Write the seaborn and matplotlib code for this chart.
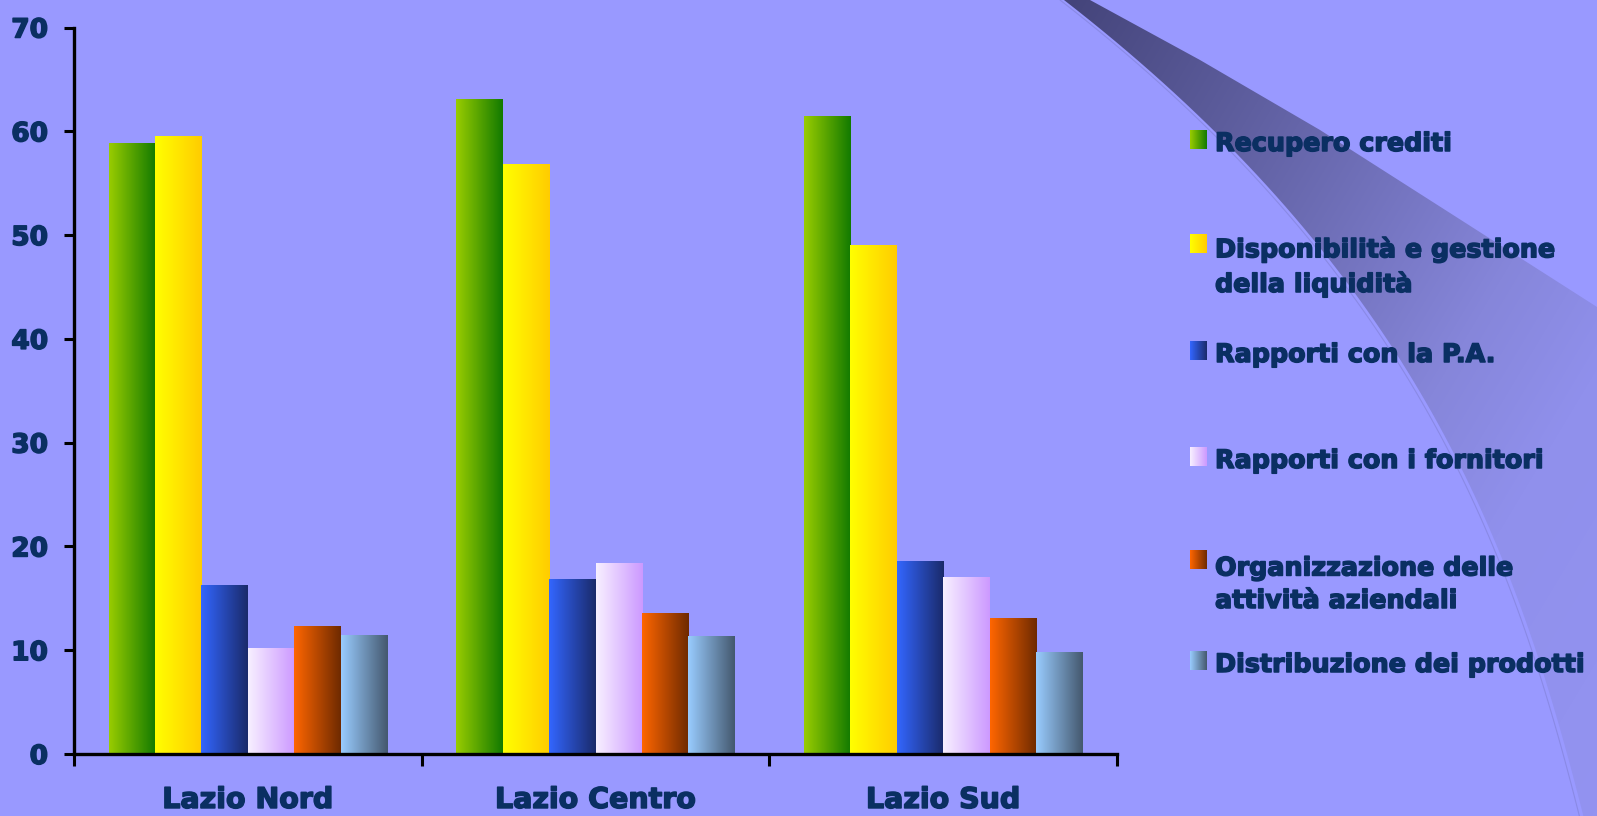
import numpy as np
import pandas as pd
import seaborn as sns
import matplotlib.pyplot as plt
import matplotlib.patheffects as pe
from matplotlib.colors import to_rgb
from matplotlib.patches import Polygon

# Dati
regioni = ["Lazio Nord", "Lazio Centro", "Lazio Sud"]
voci = ["Recupero crediti",
        "Disponibilità e gestione\ndella liquidità",
        "Rapporti con la P.A.",
        "Rapporti con i fornitori",
        "Organizzazione delle\nattività aziendali",
        "Distribuzione dei prodotti"]
recupero = [58.8, 63.1, 61.4]
disponibilita = [59.5, 56.8, 49.0]
rapporti_pa = [16.2, 16.8, 18.5]
fornitori = [10.2, 18.4, 17.0]
organizzazione = [12.3, 13.5, 13.1]
distribuzione = [11.4, 11.3, 9.8]
valori = [recupero, disponibilita, rapporti_pa, fornitori, organizzazione, distribuzione]

# colori sfumati (sinistra -> destra)
colori = [("#99cc00", "#127a00"),
          ("#ffff00", "#ffcc00"),
          ("#3366ff", "#1a2a6a"),
          ("#f8f0ff", "#cc99ff"),
          ("#ff6600", "#6e2a00"),
          ("#99ccff", "#44586e")]

blu = "#0a2f62"
sfondo = "#9999ff"
grassetto = [pe.withStroke(linewidth=1.1, foreground=blu)]

df = pd.DataFrame([(r, v, vals[i]) for v, vals in zip(voci, valori) for i, r in enumerate(regioni)],
                  columns=["regione", "voce", "valore"])

sns.set_style("ticks")
plt.rcParams["font.family"] = ["DejaVu Sans"]

W, H = 1597, 816
fig = plt.figure(figsize=(W / 100, H / 100), dpi=100, facecolor=sfondo)

# forma decorativa in alto a destra
bg = fig.add_axes([0, 0, 1, 1], zorder=-1)
bg.set_facecolor("none")
yy, xx = np.mgrid[0:H, 1040:W]
t = (xx - 1068) + 0.6 * yy
st_t = [0, 250, 600, 750, 1100]
st_c = [(68, 68, 122), (95, 95, 160), (134, 134, 218), (144, 144, 236), (148, 148, 242)]
img = np.dstack([np.interp(t, st_t, [c[k] for c in st_c]) for k in range(3)]) / 255
im = bg.imshow(img, extent=[1040, W, H, 0], origin="upper", interpolation="bilinear")
# bordo sinistro curvo (x in funzione di y), bordo superiore quasi dritto
py = [0, 90, 180, 222, 340, 405, 500, 600, 700, 816]
px = [1068, 1165, 1260, 1300, 1387, 1430, 1483, 1515, 1545, 1587]
k = np.polyfit(py, px, 3)
ys = np.linspace(0, H, 80)
bordo_sx = list(zip(np.polyval(k, ys), ys))
bordo_sup = [(1597, 816), (1597, 307), (1450, 213), (1320, 130), (1200, 60), (1090, 0)]
poly = Polygon(bordo_sx + bordo_sup, closed=True, facecolor="none", edgecolor="none", transform=bg.transData)
bg.add_patch(poly)
im.set_clip_path(poly)
bg.plot(np.polyval(k, ys) - 4, ys, color="#8a8ae6", lw=0.8)
bg.set_xlim(0, W)
bg.set_ylim(H, 0)
bg.set_aspect("auto")
bg.axis("off")

# grafico
ax = fig.add_axes([74 / W, 1 - 754 / H, (1117 - 74) / W, (754 - 27.5) / H])
ax.set_facecolor("none")
sns.barplot(data=df, x="regione", y="valore", hue="voce", order=regioni, hue_order=voci,
            width=0.8, saturation=1, legend=False, linewidth=0, ax=ax)


def sfumatura(c0, c1):
    g = np.linspace(0, 1, 256)[:, None]
    return (((1 - g) * np.array(to_rgb(c0)) + g * np.array(to_rgb(c1))))[None, :, :]


for cont, (c0, c1) in zip(ax.containers, colori):
    grad = sfumatura(c0, c1)
    for bar in cont:
        x0, w, h = bar.get_x(), bar.get_width(), bar.get_height()
        ax.imshow(grad, extent=[x0, x0 + w, 0, h], aspect="auto", interpolation="bilinear", zorder=2)
        bar.set_visible(False)

ax.set_xlim(-0.5, 2.5)
ax.set_ylim(0, 70)
ax.set_aspect("auto")
ax.set_xlabel("")
ax.set_ylabel("")
sns.despine(ax=ax)
for s in ["left", "bottom"]:
    ax.spines[s].set_linewidth(2.4)
    ax.spines[s].set_color("black")

ax.set_yticks(range(0, 71, 10))
ax.set_xticks([-0.5, 0.5, 1.5, 2.5])
ax.set_xticklabels([])
ax.set_xticks([0, 1, 2], minor=True)
ax.set_xticklabels(regioni, minor=True)
ax.tick_params(axis="x", which="major", length=8.6, width=2.2, direction="out", color="black")
ax.tick_params(axis="x", which="minor", length=0, pad=23, labelsize=20.5, labelcolor=blu)
ax.tick_params(axis="y", length=7.2, width=2.2, direction="out", pad=11.5, labelsize=19,
               labelcolor=blu, color="black")
for lab in ax.get_yticklabels() + ax.get_xticklabels(minor=True):
    lab.set_fontweight("bold")
    lab.set_path_effects(grassetto)

# legenda
basi = [151, 255, 362, 468, 571, 672]
for voce, (c0, c1), b in zip(voci, colori, basi):
    q = fig.add_axes([1190 / W, 1 - (b - 2) / H, 17 / W, 19 / H])
    q.imshow(sfumatura(c0, c1), aspect="auto", interpolation="bilinear")
    q.axis("off")
    n = voce.count("\n")
    fig.text(1215 / W, 1 - (b + 37 * n) / H, voce, ha="left", va="baseline", fontsize=18.3,
             fontweight="bold", color=blu, linespacing=1.45, path_effects=grassetto)

fig.savefig("out.png", dpi=100, facecolor=sfondo)
